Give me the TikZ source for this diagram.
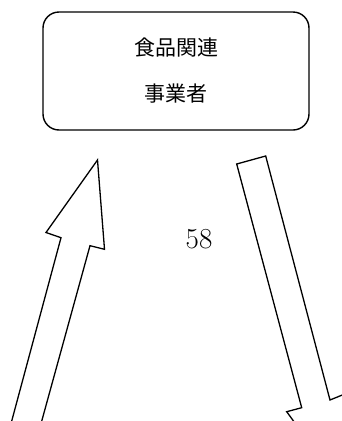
\documentclass[tikz,border=0pt]{standalone}
\usepackage{fontspec}
\newfontfamily\cjk{Noto Sans CJK JP}
\begin{document}
\begin{tikzpicture}[x=1pt,y=-1pt,
  boxstyle/.style={draw, line width=1.4pt, rounded corners=16pt, minimum width=266pt, minimum height=118pt, align=center, font=\cjk\fontsize{21}{46}\selectfont},
  blockarrow/.style={draw, line width=1.3pt, line join=miter}]
\clip (0,0) rectangle (342,421);
\node[boxstyle] (box) at (176,71) {食品関連\\事業者};
\node[font=\fontsize{29}{30}\selectfont] (num) at (199,239.5) {58};
\draw[blockarrow] (6.6,440) -- (61,237.7) -- (46,232.5) -- (97.5,160) -- (104.5,249.3) -- (90,245.7) -- (36.5,440) -- cycle;
\draw[blockarrow] (236.7,164) -- (265.7,156) -- (330,400) -- (346,393.5) -- (336.5,480) -- (286.7,411.7) -- (301.7,407.7) -- cycle;
\end{tikzpicture}
\end{document}
